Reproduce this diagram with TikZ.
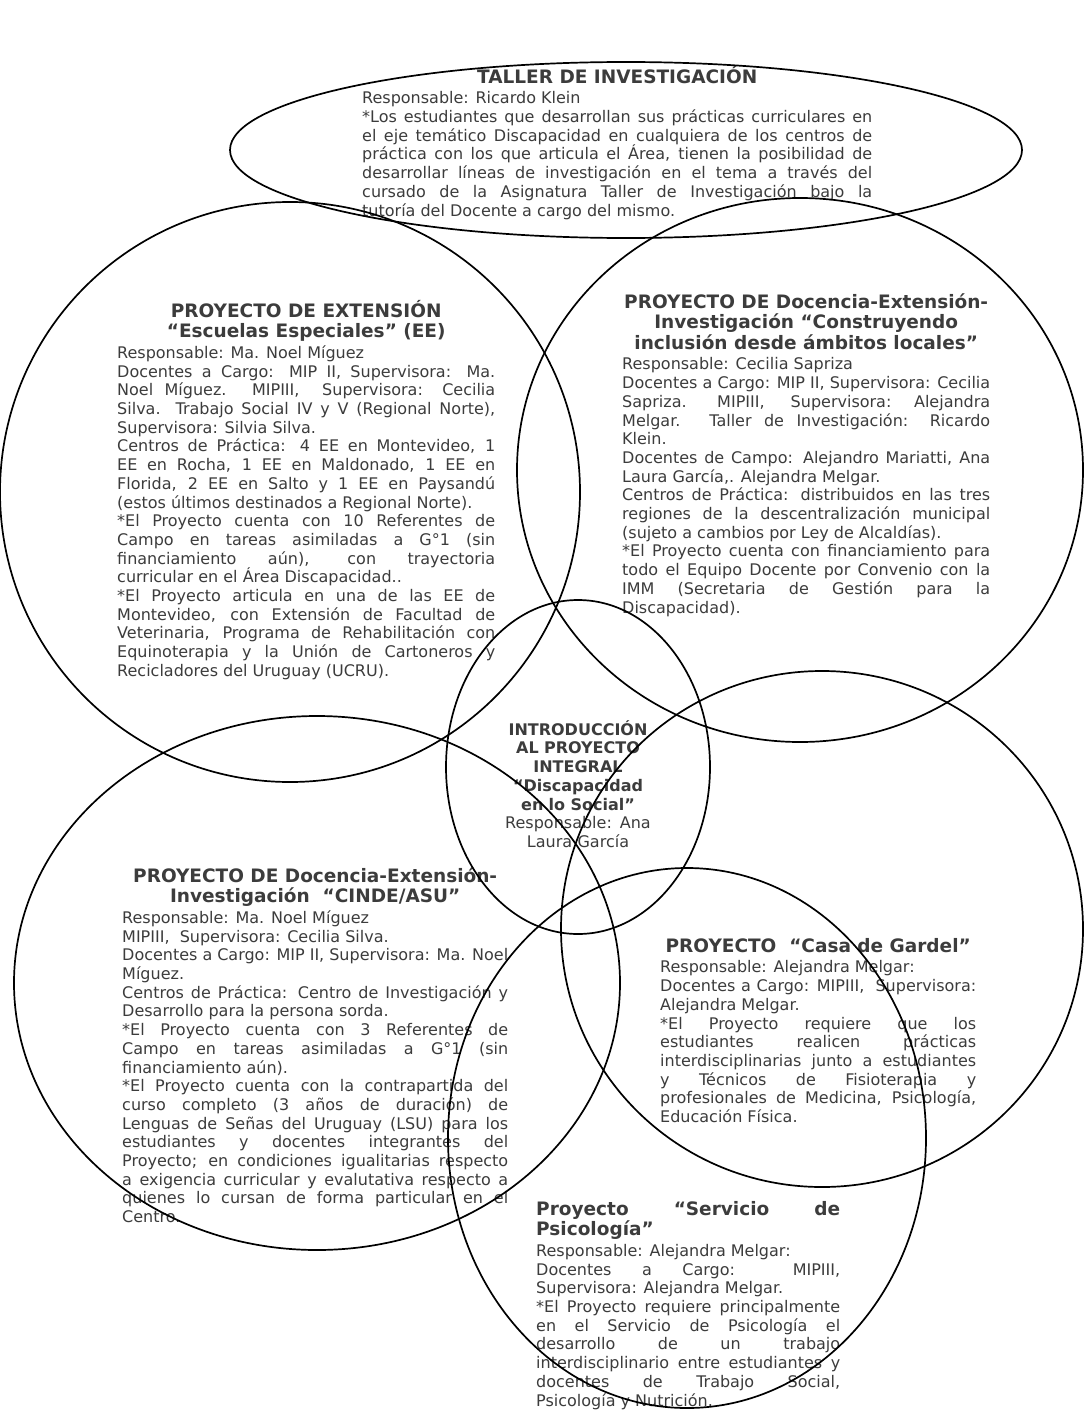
\documentclass[tikz,border=0pt]{standalone}
\usepackage{fontspec}
\setmainfont{DejaVu Sans}
\setlength{\parindent}{0pt}
\definecolor{tinta}{HTML}{3C3C3C}
\newcommand\cuerpo{\fontsize{16}{18.7}\selectfont\tolerance=10000\hbadness=10000\relax}
\newcommand\titulo{\fontsize{18.5}{20.5}\selectfont\bfseries}
\newcommand\arranque{\rule{0pt}{18pt}}
\tikzset{
    contorno/.style={draw=black, line width=1.7pt},
    bloque/.style={anchor=north west, inner sep=0pt, align=justify, text=tinta, font=\cuerpo},
}

\begin{document}
\begin{tikzpicture}[x=1pt, y=-1pt]
    \fill[white] (0,0) rectangle (1084,1410);
    \useasboundingbox (0,0) rectangle (1084,1410);

    \node[bloque, text width=510pt] (taller) at (362,65) {%
        {\centering\titulo\arranque TALLER DE INVESTIGACIÓN\par}\vspace{2pt}
        Responsable: Ricardo Klein\par
        *Los estudiantes que desarrollan sus prácticas curriculares en\linebreak
        el eje temático Discapacidad en cualquiera de los centros de\linebreak
        práctica con los que articula el Área, tienen la posibilidad de\linebreak
        desarrollar líneas de investigación en el tema a través del\linebreak
        cursado de la Asignatura Taller de Investigación bajo la\linebreak
        tutoría del Docente a cargo del mismo.};

    \node[bloque, text width=378pt] (escuelas) at (117,299) {%
        {\centering\titulo\arranque PROYECTO DE EXTENSIÓN\par “Escuelas Especiales” (EE)\par}\vspace{2pt}
        Responsable: Ma. Noel Míguez\par
        Docentes a Cargo: MIP II, Supervisora: Ma.\linebreak
        Noel Míguez. MIPIII,\ \ Supervisora: Cecilia\linebreak
        Silva. Trabajo Social IV y V (Regional Norte),\linebreak
        Supervisora: Silvia Silva.\par
        Centros de Práctica: 4 EE en Montevideo, 1\linebreak
        EE en Rocha, 1 EE en Maldonado, 1 EE en\linebreak
        Florida, 2 EE en Salto y 1 EE en Paysandú\linebreak
        (estos últimos destinados a Regional Norte).\par
        *El Proyecto cuenta con 10 Referentes de\linebreak
        Campo en tareas asimiladas a G°1 (sin\linebreak
        financiamiento aún), con trayectoria\linebreak
        curricular en el Área Discapacidad..\par
        *El Proyecto articula en una de las EE de\linebreak
        Montevideo, con Extensión de Facultad de\linebreak
        Veterinaria, Programa de Rehabilitación con\linebreak
        Equinoterapia y la Unión de Cartoneros y\linebreak
        Recicladores del Uruguay (UCRU).};

    \node[bloque, text width=368pt] (construyendo) at (622,290) {%
        {\centering\titulo\arranque\mbox{PROYECTO DE Docencia-Extensión-}\par
        Investigación “Construyendo\par inclusión desde ámbitos locales”\par}\vspace{2pt}
        Responsable: Cecilia Sapriza\par
        Docentes a Cargo: MIP II, Supervisora: Cecilia\linebreak
        Sapriza. MIPIII,\ \ Supervisora: Alejandra\linebreak
        Melgar. Taller de Investigación: Ricardo\linebreak
        Klein.\par
        Docentes de Campo: Alejandro Mariatti, Ana\linebreak
        Laura García,. Alejandra Melgar.\par
        Centros de Práctica: distribuidos en las tres\linebreak
        regiones de la descentralización municipal\linebreak
        (sujeto a cambios por Ley de Alcaldías).\par
        *El Proyecto cuenta con financiamiento para\linebreak
        todo el Equipo Docente por Convenio con la\linebreak
        IMM (Secretaria de Gestión para la\linebreak
        Discapacidad).};

    \node[bloque, anchor=north, align=center, text width=170pt] (intro) at (578,717) {%
        \arranque\textbf{INTRODUCCIÓN}\par \textbf{AL PROYECTO}\par \textbf{INTEGRAL}\par
        \textbf{“Discapacidad}\par \textbf{en lo Social”}\par
        Responsable: Ana\par Laura García};

    \node[bloque, text width=386pt] (cinde) at (122,864) {%
        {\centering\titulo\arranque\mbox{PROYECTO DE Docencia-Extensión-}\par
        Investigación\ \ “CINDE/ASU”\par}\vspace{2pt}
        Responsable: Ma. Noel Míguez\par
        MIPIII,\ \ Supervisora: Cecilia Silva.\par
        Docentes a Cargo: MIP II, Supervisora: Ma. Noel\linebreak
        Míguez.\par
        Centros de Práctica: Centro de Investigación y\linebreak
        Desarrollo para la persona sorda.\par
        *El Proyecto cuenta con 3 Referentes de\linebreak
        Campo en tareas asimiladas a G°1 (sin\linebreak
        financiamiento aún).\par
        *El Proyecto cuenta con la contrapartida del\linebreak
        curso completo (3 años de duración) de\linebreak
        Lenguas de Señas del Uruguay (LSU) para los\linebreak
        estudiantes y docentes integrantes del\linebreak
        Proyecto; en condiciones igualitarias respecto\linebreak
        a exigencia curricular y evalutativa respecto a\linebreak
        quienes lo cursan de forma particular en el\linebreak
        Centro.};

    \node[bloque, text width=316pt] (gardel) at (660,934) {%
        {\centering\titulo\arranque PROYECTO\ \ “Casa de Gardel”\par}\vspace{2pt}
        Responsable: Alejandra Melgar:\par
        Docentes a Cargo: MIPIII,\ \ Supervisora:\linebreak
        Alejandra Melgar.\par
        *El Proyecto requiere que los\linebreak
        estudiantes realicen prácticas\linebreak
        interdisciplinarias junto a estudiantes\linebreak
        y Técnicos de Fisioterapia y\linebreak
        profesionales de Medicina, Psicología,\linebreak
        Educación Física.};

    \node[bloque, text width=304pt] (psicologia) at (536,1197) {%
        {\titulo\arranque Proyecto “Servicio de\linebreak Psicología”\par}\vspace{2pt}
        Responsable: Alejandra Melgar:\par
        Docentes a Cargo: MIPIII,\linebreak
        Supervisora: Alejandra Melgar.\par
        *El Proyecto requiere principalmente\linebreak
        en el Servicio de Psicología el\linebreak
        desarrollo de un trabajo\linebreak
        interdisciplinario entre estudiantes y\linebreak
        docentes de Trabajo Social,\linebreak
        Psicología y Nutrición.};

    \draw[contorno] (626,150) ellipse [x radius=396, y radius=88];
    \draw[contorno] (290,492) ellipse [x radius=290, y radius=290];
    \draw[contorno] (800,470) ellipse [x radius=283, y radius=272];
    \draw[contorno] (578,767) ellipse [x radius=132, y radius=167];
    \draw[contorno] (317,983) ellipse [x radius=303, y radius=267];
    \draw[contorno] (822,929) ellipse [x radius=261, y radius=258];
    \draw[contorno] (687,1138) ellipse [x radius=239, y radius=270];
\end{tikzpicture}
\end{document}
